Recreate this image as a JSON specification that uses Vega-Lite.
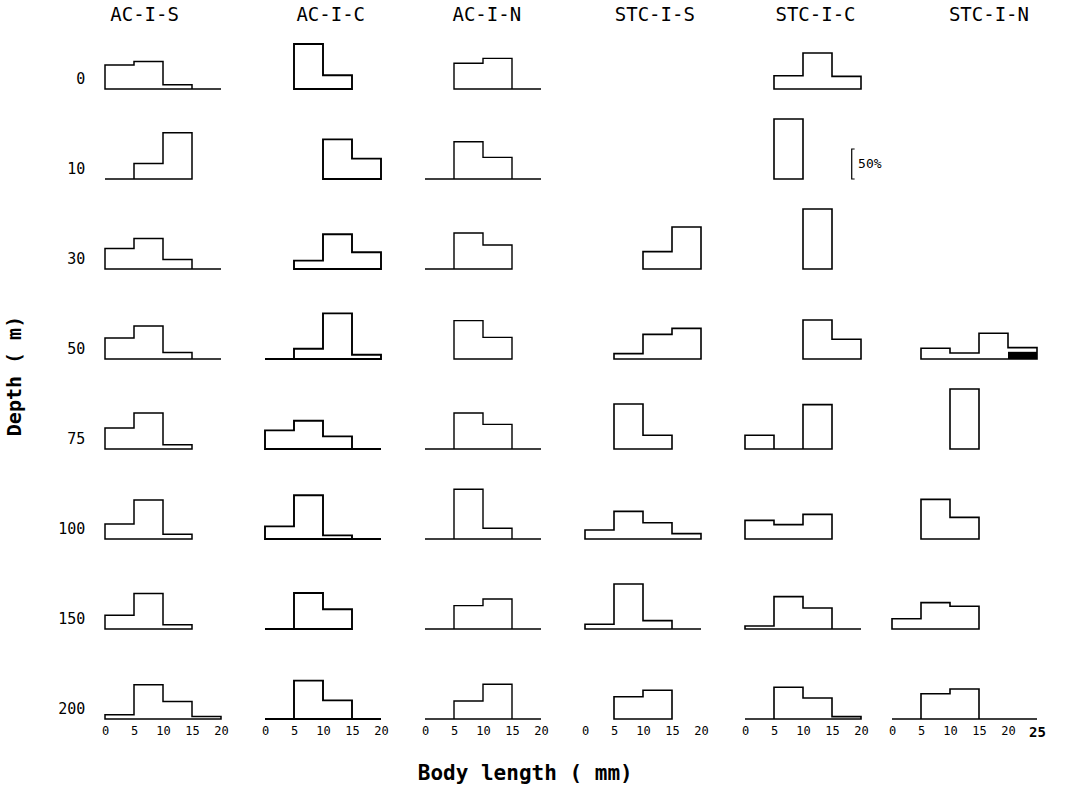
{
"$schema":"https://vega.github.io/schema/vega-lite/v6.json",
"background":"white",
"padding":{"left":5,"top":6,"right":5,"bottom":3},
"datasets":{"h":[
{"s":"AC-I-S","d":0,"k":"a","x":0,"p":40},{"s":"AC-I-S","d":0,"k":"a","x":5,"p":46},{"s":"AC-I-S","d":0,"k":"a","x":10,"p":7},{"s":"AC-I-S","d":0,"k":"a","x":15,"p":0},{"s":"AC-I-S","d":0,"k":"a","x":20,"p":0},
{"s":"AC-I-S","d":10,"k":"a","x":0,"p":0},{"s":"AC-I-S","d":10,"k":"a","x":5,"p":26},{"s":"AC-I-S","d":10,"k":"a","x":10,"p":77},{"s":"AC-I-S","d":10,"k":"a","x":15,"p":77},
{"s":"AC-I-S","d":30,"k":"a","x":0,"p":34},{"s":"AC-I-S","d":30,"k":"a","x":5,"p":51},{"s":"AC-I-S","d":30,"k":"a","x":10,"p":16},{"s":"AC-I-S","d":30,"k":"a","x":15,"p":0},{"s":"AC-I-S","d":30,"k":"a","x":20,"p":0},
{"s":"AC-I-S","d":50,"k":"a","x":0,"p":35},{"s":"AC-I-S","d":50,"k":"a","x":5,"p":55},{"s":"AC-I-S","d":50,"k":"a","x":10,"p":11},{"s":"AC-I-S","d":50,"k":"a","x":15,"p":0},{"s":"AC-I-S","d":50,"k":"a","x":20,"p":0},
{"s":"AC-I-S","d":75,"k":"a","x":0,"p":35},{"s":"AC-I-S","d":75,"k":"a","x":5,"p":60},{"s":"AC-I-S","d":75,"k":"a","x":10,"p":7},{"s":"AC-I-S","d":75,"k":"a","x":15,"p":7},
{"s":"AC-I-S","d":100,"k":"a","x":0,"p":25},{"s":"AC-I-S","d":100,"k":"a","x":5,"p":65},{"s":"AC-I-S","d":100,"k":"a","x":10,"p":8},{"s":"AC-I-S","d":100,"k":"a","x":15,"p":8},
{"s":"AC-I-S","d":150,"k":"a","x":0,"p":23},{"s":"AC-I-S","d":150,"k":"a","x":5,"p":59},{"s":"AC-I-S","d":150,"k":"a","x":10,"p":7},{"s":"AC-I-S","d":150,"k":"a","x":15,"p":7},
{"s":"AC-I-S","d":200,"k":"a","x":0,"p":7},{"s":"AC-I-S","d":200,"k":"a","x":5,"p":57},{"s":"AC-I-S","d":200,"k":"a","x":10,"p":29},{"s":"AC-I-S","d":200,"k":"a","x":15,"p":4},{"s":"AC-I-S","d":200,"k":"a","x":20,"p":4},

{"s":"AC-I-C","d":0,"k":"a","x":5,"p":75},{"s":"AC-I-C","d":0,"k":"a","x":10,"p":23},{"s":"AC-I-C","d":0,"k":"a","x":15,"p":23},
{"s":"AC-I-C","d":10,"k":"a","x":10,"p":66},{"s":"AC-I-C","d":10,"k":"a","x":15,"p":34},{"s":"AC-I-C","d":10,"k":"a","x":20,"p":34},
{"s":"AC-I-C","d":30,"k":"a","x":5,"p":14},{"s":"AC-I-C","d":30,"k":"a","x":10,"p":58},{"s":"AC-I-C","d":30,"k":"a","x":15,"p":28},{"s":"AC-I-C","d":30,"k":"a","x":20,"p":28},
{"s":"AC-I-C","d":50,"k":"a","x":0,"p":0},{"s":"AC-I-C","d":50,"k":"a","x":5,"p":17},{"s":"AC-I-C","d":50,"k":"a","x":10,"p":76},{"s":"AC-I-C","d":50,"k":"a","x":15,"p":7},{"s":"AC-I-C","d":50,"k":"a","x":20,"p":7},
{"s":"AC-I-C","d":75,"k":"a","x":0,"p":31},{"s":"AC-I-C","d":75,"k":"a","x":5,"p":47},{"s":"AC-I-C","d":75,"k":"a","x":10,"p":21},{"s":"AC-I-C","d":75,"k":"a","x":15,"p":0},{"s":"AC-I-C","d":75,"k":"a","x":20,"p":0},
{"s":"AC-I-C","d":100,"k":"a","x":0,"p":21},{"s":"AC-I-C","d":100,"k":"a","x":5,"p":73},{"s":"AC-I-C","d":100,"k":"a","x":10,"p":6},{"s":"AC-I-C","d":100,"k":"a","x":15,"p":0},{"s":"AC-I-C","d":100,"k":"a","x":20,"p":0},
{"s":"AC-I-C","d":150,"k":"a","x":0,"p":0},{"s":"AC-I-C","d":150,"k":"a","x":5,"p":60},{"s":"AC-I-C","d":150,"k":"a","x":10,"p":33},{"s":"AC-I-C","d":150,"k":"a","x":15,"p":33},
{"s":"AC-I-C","d":200,"k":"a","x":0,"p":0},{"s":"AC-I-C","d":200,"k":"a","x":5,"p":64},{"s":"AC-I-C","d":200,"k":"a","x":10,"p":31},{"s":"AC-I-C","d":200,"k":"a","x":15,"p":0},{"s":"AC-I-C","d":200,"k":"a","x":20,"p":0},

{"s":"AC-I-N","d":0,"k":"a","x":5,"p":43},{"s":"AC-I-N","d":0,"k":"a","x":10,"p":51},{"s":"AC-I-N","d":0,"k":"a","x":15,"p":0},{"s":"AC-I-N","d":0,"k":"a","x":20,"p":0},
{"s":"AC-I-N","d":10,"k":"a","x":0,"p":0},{"s":"AC-I-N","d":10,"k":"a","x":5,"p":62},{"s":"AC-I-N","d":10,"k":"a","x":10,"p":36},{"s":"AC-I-N","d":10,"k":"a","x":15,"p":0},{"s":"AC-I-N","d":10,"k":"a","x":20,"p":0},
{"s":"AC-I-N","d":30,"k":"a","x":0,"p":0},{"s":"AC-I-N","d":30,"k":"a","x":5,"p":60},{"s":"AC-I-N","d":30,"k":"a","x":10,"p":40},{"s":"AC-I-N","d":30,"k":"a","x":15,"p":40},
{"s":"AC-I-N","d":50,"k":"a","x":5,"p":64},{"s":"AC-I-N","d":50,"k":"a","x":10,"p":36},{"s":"AC-I-N","d":50,"k":"a","x":15,"p":36},
{"s":"AC-I-N","d":75,"k":"a","x":0,"p":0},{"s":"AC-I-N","d":75,"k":"a","x":5,"p":60},{"s":"AC-I-N","d":75,"k":"a","x":10,"p":41},{"s":"AC-I-N","d":75,"k":"a","x":15,"p":0},{"s":"AC-I-N","d":75,"k":"a","x":20,"p":0},
{"s":"AC-I-N","d":100,"k":"a","x":0,"p":0},{"s":"AC-I-N","d":100,"k":"a","x":5,"p":83},{"s":"AC-I-N","d":100,"k":"a","x":10,"p":18},{"s":"AC-I-N","d":100,"k":"a","x":15,"p":0},{"s":"AC-I-N","d":100,"k":"a","x":20,"p":0},
{"s":"AC-I-N","d":150,"k":"a","x":0,"p":0},{"s":"AC-I-N","d":150,"k":"a","x":5,"p":39},{"s":"AC-I-N","d":150,"k":"a","x":10,"p":50},{"s":"AC-I-N","d":150,"k":"a","x":15,"p":0},{"s":"AC-I-N","d":150,"k":"a","x":20,"p":0},
{"s":"AC-I-N","d":200,"k":"a","x":0,"p":0},{"s":"AC-I-N","d":200,"k":"a","x":5,"p":30},{"s":"AC-I-N","d":200,"k":"a","x":10,"p":58},{"s":"AC-I-N","d":200,"k":"a","x":15,"p":0},{"s":"AC-I-N","d":200,"k":"a","x":20,"p":0},

{"s":"STC-I-S","d":0,"k":"e"},{"s":"STC-I-S","d":10,"k":"e"},
{"s":"STC-I-S","d":30,"k":"a","x":10,"p":29},{"s":"STC-I-S","d":30,"k":"a","x":15,"p":70},{"s":"STC-I-S","d":30,"k":"a","x":20,"p":70},
{"s":"STC-I-S","d":50,"k":"a","x":5,"p":9},{"s":"STC-I-S","d":50,"k":"a","x":10,"p":41},{"s":"STC-I-S","d":50,"k":"a","x":15,"p":51},{"s":"STC-I-S","d":50,"k":"a","x":20,"p":51},
{"s":"STC-I-S","d":75,"k":"a","x":5,"p":75},{"s":"STC-I-S","d":75,"k":"a","x":10,"p":23},{"s":"STC-I-S","d":75,"k":"a","x":15,"p":23},
{"s":"STC-I-S","d":100,"k":"a","x":0,"p":15},{"s":"STC-I-S","d":100,"k":"a","x":5,"p":46},{"s":"STC-I-S","d":100,"k":"a","x":10,"p":27},{"s":"STC-I-S","d":100,"k":"a","x":15,"p":9},{"s":"STC-I-S","d":100,"k":"a","x":20,"p":9},
{"s":"STC-I-S","d":150,"k":"a","x":0,"p":8},{"s":"STC-I-S","d":150,"k":"a","x":5,"p":75},{"s":"STC-I-S","d":150,"k":"a","x":10,"p":14},{"s":"STC-I-S","d":150,"k":"a","x":15,"p":0},{"s":"STC-I-S","d":150,"k":"a","x":20,"p":0},
{"s":"STC-I-S","d":200,"k":"a","x":5,"p":37},{"s":"STC-I-S","d":200,"k":"a","x":10,"p":48},{"s":"STC-I-S","d":200,"k":"a","x":15,"p":48},

{"s":"STC-I-C","d":0,"k":"a","x":5,"p":22},{"s":"STC-I-C","d":0,"k":"a","x":10,"p":60},{"s":"STC-I-C","d":0,"k":"a","x":15,"p":21},{"s":"STC-I-C","d":0,"k":"a","x":20,"p":21},
{"s":"STC-I-C","d":10,"k":"a","x":5,"p":100},{"s":"STC-I-C","d":10,"k":"a","x":10,"p":100},
{"s":"STC-I-C","d":10,"k":"b","x":18.9,"p":0,"o":1},{"s":"STC-I-C","d":10,"k":"b","x":18.4,"p":0,"o":2},{"s":"STC-I-C","d":10,"k":"b","x":18.4,"p":50,"o":3},{"s":"STC-I-C","d":10,"k":"b","x":18.9,"p":50,"o":4},
{"s":"STC-I-C","d":10,"k":"t","x":19.5,"p":25,"lab":"50%"},
{"s":"STC-I-C","d":30,"k":"a","x":10,"p":100},{"s":"STC-I-C","d":30,"k":"a","x":15,"p":100},
{"s":"STC-I-C","d":50,"k":"a","x":10,"p":65},{"s":"STC-I-C","d":50,"k":"a","x":15,"p":33},{"s":"STC-I-C","d":50,"k":"a","x":20,"p":33},
{"s":"STC-I-C","d":75,"k":"a","x":0,"p":23},{"s":"STC-I-C","d":75,"k":"a","x":5,"p":0},{"s":"STC-I-C","d":75,"k":"a","x":10,"p":74},{"s":"STC-I-C","d":75,"k":"a","x":15,"p":74},
{"s":"STC-I-C","d":100,"k":"a","x":0,"p":31},{"s":"STC-I-C","d":100,"k":"a","x":5,"p":24},{"s":"STC-I-C","d":100,"k":"a","x":10,"p":41},{"s":"STC-I-C","d":100,"k":"a","x":15,"p":41},
{"s":"STC-I-C","d":150,"k":"a","x":0,"p":5},{"s":"STC-I-C","d":150,"k":"a","x":5,"p":54},{"s":"STC-I-C","d":150,"k":"a","x":10,"p":35},{"s":"STC-I-C","d":150,"k":"a","x":15,"p":0},{"s":"STC-I-C","d":150,"k":"a","x":20,"p":0},
{"s":"STC-I-C","d":200,"k":"a","x":0,"p":0},{"s":"STC-I-C","d":200,"k":"a","x":5,"p":53},{"s":"STC-I-C","d":200,"k":"a","x":10,"p":35},{"s":"STC-I-C","d":200,"k":"a","x":15,"p":4},{"s":"STC-I-C","d":200,"k":"a","x":20,"p":4},

{"s":"STC-I-N","d":0,"k":"e"},{"s":"STC-I-N","d":10,"k":"e"},{"s":"STC-I-N","d":30,"k":"e"},
{"s":"STC-I-N","d":50,"k":"a","x":5,"p":18},{"s":"STC-I-N","d":50,"k":"a","x":10,"p":10},{"s":"STC-I-N","d":50,"k":"a","x":15,"p":43},{"s":"STC-I-N","d":50,"k":"a","x":20,"p":19},{"s":"STC-I-N","d":50,"k":"a","x":25,"p":19},
{"s":"STC-I-N","d":50,"k":"dk","x":20,"x2":25,"p":12},
{"s":"STC-I-N","d":75,"k":"a","x":10,"p":100},{"s":"STC-I-N","d":75,"k":"a","x":15,"p":100},
{"s":"STC-I-N","d":100,"k":"a","x":5,"p":66},{"s":"STC-I-N","d":100,"k":"a","x":10,"p":36},{"s":"STC-I-N","d":100,"k":"a","x":15,"p":36},
{"s":"STC-I-N","d":150,"k":"a","x":0,"p":17},{"s":"STC-I-N","d":150,"k":"a","x":5,"p":44},{"s":"STC-I-N","d":150,"k":"a","x":10,"p":38},{"s":"STC-I-N","d":150,"k":"a","x":15,"p":38},
{"s":"STC-I-N","d":200,"k":"a","x":0,"p":0},{"s":"STC-I-N","d":200,"k":"a","x":5,"p":42},{"s":"STC-I-N","d":200,"k":"a","x":10,"p":50},{"s":"STC-I-N","d":200,"k":"a","x":15,"p":0},{"s":"STC-I-N","d":200,"k":"a","x":20,"p":0},{"s":"STC-I-N","d":200,"k":"a","x":25,"p":0}
]},
"config":{
 "font":"DejaVu Sans Mono",
 "view":{"stroke":null},
 "axis":{"domain":false,"ticks":false,"grid":false,"labelFont":"DejaVu Sans Mono","labelFontSize":12,"labelColor":"black","labelPadding":6,"labelOverlap":false,"labelBound":false,"labelFlush":false,"title":null},
 "title":{"font":"DejaVu Sans Mono","fontSize":19,"fontWeight":"normal","color":"black","offset":4,"anchor":"middle"},
 "header":{"labelFont":"DejaVu Sans Mono","titleFont":"DejaVu Sans Mono"}
},
"title":{"text":"Body length ( mm)","orient":"bottom","anchor":"middle","fontSize":21,"fontWeight":"bold","offset":24},
"spacing":6,
"hconcat":[
 {"spacing":32,"hconcat":[
  {"title":{"text":"AC-I-S","dx":28},"data":{"name":"h"},"transform":[{"filter":"datum.s === 'AC-I-S'"}],"bounds":"flush",
   "facet":{"row":{"field":"d","type":"ordinal","sort":[0,10,30,50,75,100,150,200],
     "header":{"labels":false,"title":"Depth ( m)","titleOrient":"left","titleAngle":-90,"titleFontSize":20,"titleFontWeight":"bold","titlePadding":50,"titleColor":"black"}}},
   "spacing":{"row":30},
   "spec":{"width":116,"height":60,"layer":[
    {"transform":[{"filter":"datum.k === 'a'"}],"mark":{"type":"area","interpolate":"step-after","fill":"white","stroke":"black","strokeWidth":1.5},
     "encoding":{"x":{"field":"x","type":"quantitative","scale":{"domain":[0,20],"nice":false,"zero":false},"axis":{"values":[0,5,10,15,20]}},
       "y":{"field":"p","type":"quantitative","stack":null,"scale":{"domain":[0,100],"nice":false},"axis":null}}},
    {"transform":[{"filter":"datum.k === 'a'"},{"aggregate":[{"op":"count","as":"n"}],"groupby":["d"]}],
     "mark":{"type":"text","align":"right","baseline":"middle","fontSize":15,"font":"DejaVu Sans Mono","color":"black"},
     "encoding":{"x":{"datum":-3.4,"type":"quantitative","axis":{"values":[0,5,10,15,20]}},"y":{"datum":16,"type":"quantitative","axis":null},"text":{"field":"d","type":"nominal"}}}
   ]}},
  {"title":{"text":"AC-I-C","dx":6},"data":{"name":"h"},"transform":[{"filter":"datum.s === 'AC-I-C'"}],"bounds":"flush",
   "facet":{"row":{"field":"d","type":"ordinal","sort":[0,10,30,50,75,100,150,200],"header":null}},
   "spacing":{"row":30},
   "spec":{"width":116,"height":60,"layer":[
    {"transform":[{"filter":"datum.k === 'a'"}],"mark":{"type":"area","interpolate":"step-after","fill":"white","stroke":"black","strokeWidth":1.9},
     "encoding":{"x":{"field":"x","type":"quantitative","scale":{"domain":[0,20],"nice":false,"zero":false},"axis":{"values":[0,5,10,15,20]}},
       "y":{"field":"p","type":"quantitative","stack":null,"scale":{"domain":[0,100],"nice":false},"axis":null}}},
    {"transform":[{"filter":"datum.k === 'b'"}],"mark":{"type":"line","stroke":"black"},
     "encoding":{"x":{"field":"x","type":"quantitative","axis":{"values":[0,5,10,15,20]}},"y":{"field":"p","type":"quantitative","axis":null}}}
   ]}},
  {"title":{"text":"AC-I-N","dx":2},"data":{"name":"h"},"transform":[{"filter":"datum.s === 'AC-I-N'"}],"bounds":"flush",
   "facet":{"row":{"field":"d","type":"ordinal","sort":[0,10,30,50,75,100,150,200],"header":null}},
   "spacing":{"row":30},
   "spec":{"width":116,"height":60,"layer":[
    {"transform":[{"filter":"datum.k === 'a'"}],"mark":{"type":"area","interpolate":"step-after","fill":"white","stroke":"black","strokeWidth":1.4},
     "encoding":{"x":{"field":"x","type":"quantitative","scale":{"domain":[0,20],"nice":false,"zero":false},"axis":{"values":[0,5,10,15,20]}},
       "y":{"field":"p","type":"quantitative","stack":null,"scale":{"domain":[0,100],"nice":false},"axis":null}}},
    {"transform":[{"filter":"datum.k === 'b'"}],"mark":{"type":"line","stroke":"black"},
     "encoding":{"x":{"field":"x","type":"quantitative","axis":{"values":[0,5,10,15,20]}},"y":{"field":"p","type":"quantitative","axis":null}}}
   ]}},
  {"title":{"text":"STC-I-S","dx":10},"data":{"name":"h"},"transform":[{"filter":"datum.s === 'STC-I-S'"}],"bounds":"flush",
   "facet":{"row":{"field":"d","type":"ordinal","sort":[0,10,30,50,75,100,150,200],"header":null}},
   "spacing":{"row":30},
   "spec":{"width":116,"height":60,"layer":[
    {"transform":[{"filter":"datum.k === 'a'"}],"mark":{"type":"area","interpolate":"step-after","fill":"white","stroke":"black","strokeWidth":1.6},
     "encoding":{"x":{"field":"x","type":"quantitative","scale":{"domain":[0,20],"nice":false,"zero":false},"axis":{"values":[0,5,10,15,20]}},
       "y":{"field":"p","type":"quantitative","stack":null,"scale":{"domain":[0,100],"nice":false},"axis":null}}},
    {"transform":[{"filter":"datum.k === 'b'"}],"mark":{"type":"line","stroke":"black"},
     "encoding":{"x":{"field":"x","type":"quantitative","axis":{"values":[0,5,10,15,20]}},"y":{"field":"p","type":"quantitative","axis":null}}}
   ]}},
  {"title":{"text":"STC-I-C","dx":4},"data":{"name":"h"},"transform":[{"filter":"datum.s === 'STC-I-C'"}],"bounds":"flush",
   "facet":{"row":{"field":"d","type":"ordinal","sort":[0,10,30,50,75,100,150,200],"header":null}},
   "spacing":{"row":30},
   "spec":{"width":116,"height":60,"layer":[
    {"transform":[{"filter":"datum.k === 'a'"}],"mark":{"type":"area","interpolate":"step-after","fill":"white","stroke":"black","strokeWidth":1.6},
     "encoding":{"x":{"field":"x","type":"quantitative","scale":{"domain":[0,20],"nice":false,"zero":false},"axis":{"values":[0,5,10,15,20]}},
       "y":{"field":"p","type":"quantitative","stack":null,"scale":{"domain":[0,100],"nice":false},"axis":null}}},
    {"transform":[{"filter":"datum.k === 'b'"}],"mark":{"type":"line","stroke":"black","strokeWidth":1.2},
     "encoding":{"x":{"field":"x","type":"quantitative","axis":{"values":[0,5,10,15,20]}},"y":{"field":"p","type":"quantitative","axis":null},"order":{"field":"o","type":"quantitative"}}},
    {"transform":[{"filter":"datum.k === 't'"}],"mark":{"type":"text","align":"left","baseline":"middle","fontSize":13,"font":"DejaVu Sans Mono","color":"black"},
     "encoding":{"x":{"field":"x","type":"quantitative","axis":{"values":[0,5,10,15,20]}},"y":{"field":"p","type":"quantitative","axis":null},"text":{"field":"lab"}}}
   ]}}
 ]},
 {"title":{"text":"STC-I-N","dx":22},"data":{"name":"h"},"transform":[{"filter":"datum.s === 'STC-I-N'"}],"bounds":"flush",
  "facet":{"row":{"field":"d","type":"ordinal","sort":[0,10,30,50,75,100,150,200],"header":null}},
  "spacing":{"row":30},
  "spec":{"width":145,"height":60,"layer":[
   {"transform":[{"filter":"datum.k === 'a'"}],"mark":{"type":"area","interpolate":"step-after","fill":"white","stroke":"black","strokeWidth":1.6},
    "encoding":{"x":{"field":"x","type":"quantitative","scale":{"domain":[0,25],"nice":false,"zero":false},
        "axis":{"values":[0,5,10,15,20,25],"labelFontWeight":{"condition":{"test":"datum.value === 25","value":"bold"},"value":"normal"},"labelFontSize":{"condition":{"test":"datum.value === 25","value":14},"value":12}}},
      "y":{"field":"p","type":"quantitative","stack":null,"scale":{"domain":[0,100],"nice":false},"axis":null}}},
   {"transform":[{"filter":"datum.k === 'dk'"}],"mark":{"type":"rect","fill":"black"},
    "encoding":{"x":{"field":"x","type":"quantitative",
        "axis":{"values":[0,5,10,15,20,25],"labelFontWeight":{"condition":{"test":"datum.value === 25","value":"bold"},"value":"normal"},"labelFontSize":{"condition":{"test":"datum.value === 25","value":14},"value":12}}},
      "x2":{"field":"x2"},"y":{"field":"p","type":"quantitative","axis":null},"y2":{"datum":0}}}
  ]}}
]
}
